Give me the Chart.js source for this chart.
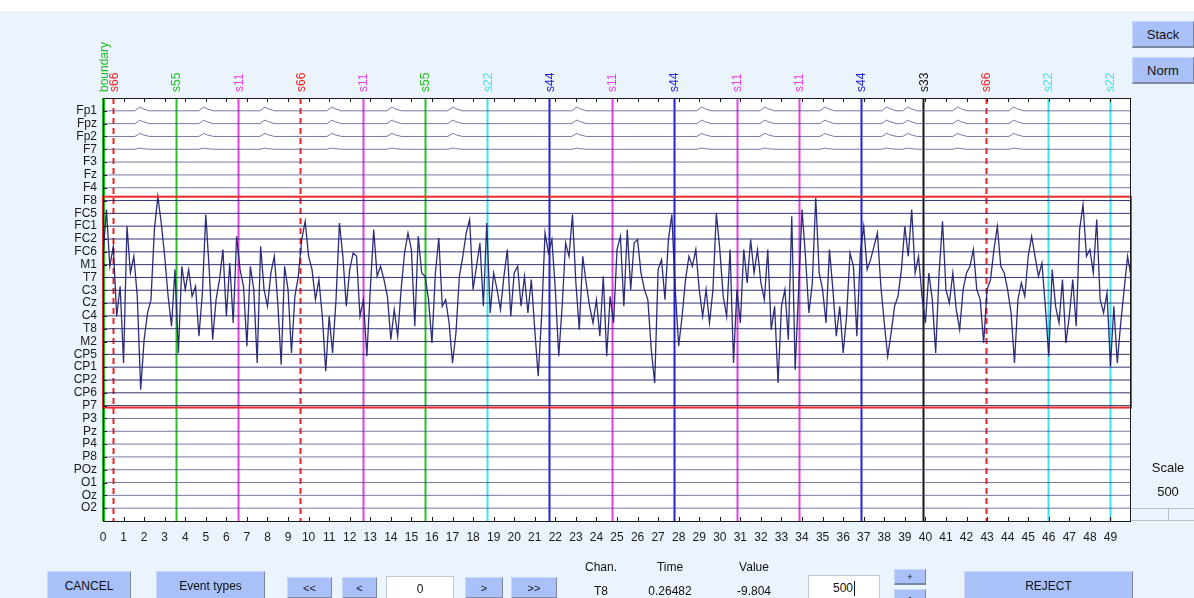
<!DOCTYPE html>
<html>
<head>
<meta charset="utf-8">
<title>EEG scroll</title>
<script src="https://cdn.jsdelivr.net/npm/chart.js@4.4.1/dist/chart.umd.min.js"></script>
<style>
  html, body { margin: 0; padding: 0; width: 1194px; height: 598px; overflow: hidden;
    background: #ebf3fd; font-family: "Liberation Sans", Arial, sans-serif; }
  #topstrip { position: absolute; left: 0; top: 0; width: 1194px; height: 11px; background: #ffffff; }
  #eeg { position: absolute; left: 0; top: 0; }
  .btn { position: absolute; box-sizing: border-box; background: #a9c0f8; color: #111;
    border-top: 1px solid #c9d6fb; border-left: 1px solid #c9d6fb;
    border-right: 1px solid #7d879f; border-bottom: 2px solid #7d879f;
    font-size: 12px; display: flex; align-items: center; justify-content: center; }
  .edit { position: absolute; box-sizing: border-box; background: #ffffff; border: 1px solid #c4c8d0;
    font-size: 12px; color: #111; display: flex; align-items: center; justify-content: center; }
  .lbl { position: absolute; font-size: 12px; color: #111; transform: translate(-50%, -50%); white-space: nowrap; }
  #slider { position: absolute; left: 1131px; top: 508px; width: 63px; height: 13px; box-sizing: border-box;
    border-top: 1px solid #b9bec8; border-bottom: 1px solid #b9bec8; }
  #slider div { position: absolute; left: 37px; top: 0; width: 1px; height: 12px; background: #b9bec8; }
</style>
</head>
<body>
<div id="topstrip"></div>
<canvas id="eeg" width="1194" height="598"></canvas>

<div class="btn" style="left:1132px;top:21px;width:62px;height:27px;font-size:13px;">Stack</div>
<div class="btn" style="left:1132px;top:57px;width:62px;height:27px;font-size:13px;">Norm</div>
<div class="lbl" style="left:1168px;top:467px;font-size:13px;">Scale</div>
<div class="lbl" style="left:1168px;top:491px;font-size:13px;">500</div>
<div id="slider"><div></div></div>

<div class="btn" style="left:47px;top:571px;width:84px;height:30px;">CANCEL</div>
<div class="btn" style="left:156px;top:571px;width:109px;height:30px;">Event types</div>
<div class="btn" style="left:287px;top:577px;width:45px;height:22px;font-size:11px;">&lt;&lt;</div>
<div class="btn" style="left:342px;top:577px;width:35px;height:22px;font-size:11px;">&lt;</div>
<div class="edit" style="left:386px;top:576px;width:68px;height:25px;">0</div>
<div class="btn" style="left:465px;top:577px;width:38px;height:22px;font-size:11px;">&gt;</div>
<div class="btn" style="left:511px;top:577px;width:46px;height:22px;font-size:11px;">&gt;&gt;</div>

<div class="lbl" style="left:601px;top:567px;">Chan.</div>
<div class="lbl" style="left:670px;top:567px;">Time</div>
<div class="lbl" style="left:754px;top:567px;">Value</div>
<div class="lbl" style="left:601px;top:591px;">T8</div>
<div class="lbl" style="left:670px;top:591px;">0.26482</div>
<div class="lbl" style="left:754px;top:591px;">-9.804</div>

<div class="edit" style="left:808px;top:575px;width:72px;height:26px;">500<span style="display:inline-block;width:1px;height:15px;background:#111;margin-left:1px;"></span></div>
<div class="btn" style="left:894px;top:569px;width:32px;height:16px;font-size:9px;">+</div>
<div class="btn" style="left:894px;top:589px;width:32px;height:16px;font-size:9px;">-</div>
<div class="btn" style="left:964px;top:571px;width:169px;height:30px;">REJECT</div>

<script>
// ---- recording layout -------------------------------------------------
const channels = ["Fp1","Fpz","Fp2","F7","F3","Fz","F4","F8","FC5","FC1","FC2","FC6","M1","T7",
                  "C3","Cz","C4","T8","M2","CP5","CP1","CP2","CP6","P7","P3","Pz","P4","P8",
                  "POz","O1","Oz","O2"];
const timeTicks = [0,1,2,3,4,5,6,7,8,9,10,11,12,13,14,15,16,17,18,19,20,21,22,23,24,
                   25,26,27,28,29,30,31,32,33,34,35,36,37,38,39,40,41,42,43,44,45,46,47,48,49];
const windowSeconds = [0, 50];
const channelSpacing = 500;           // µV between stacked channels ("Scale")

// ---- events (latency in s) ---------------------------------------------
const eventTypes     = ["boundary","s66","s55","s11","s66","s11","s55","s22","s44",
                        "s11","s44","s11","s11","s44","s33","s66","s22","s22"];
const eventLatencies = [0.00, 0.50, 3.55, 6.58, 9.60, 12.63, 15.66, 18.69, 21.71,
                        24.76, 27.77, 30.82, 33.85, 36.87, 39.90, 42.95, 45.96, 48.98];

// ---- ocular blinks on frontal leads -------------------------------------
const blinkLatencies = [1.80, 4.91, 7.88, 11.14, 14.06, 17.02, 23.05, 29.13, 32.20,
                        35.12, 38.13, 39.15, 41.58, 44.31];
const blinkChannels  = ["Fp1", "Fpz", "Fp2", "F7"];
const blinkPeaks     = [150, 140, 120, 45];          // µV

// ---- high-amplitude channel (µV, one sample every 1/6 s) ----------------
const artifactChannel = "C3";
const artifactStep = 1 / 6;
const artifactTrace = [
  1325, 3145,  935, 1715,-1015,  155,-2835, 2495,  675, 1325, -235,-3875,
 -1925, -885, -365, 2365, 3665, 2625, 1325, -235,-1405,  805,-2445,  935,
    25,  805, -235,  155,-1795, -105, 2950,  805,-1925, -365,  415, 1585,
 -1015, 1065,-1275, 2105,  805,  155,-2185,  935,   25,-2835, 1715,   25,
  -625,  675, 1325, -495,-2900,  935,   25,-2445, -235,  545, 1975, 2690,
  1325,  805, -365,  415,-1015,-3160,-1015,-2445, -365, 2625, 1325, -625,
   805, 1455, 1325,-1015, -365,-2575,   25, 2365,  545,  935,  415, -235,
 -1925, -755,-1795,   25, 1455, 2235, 1585,-1405, 2105,  675,  545, -365,
 -2055,  675, 2040, -625, -365,-1275,-2835,-1665,  545, 1325, 2235, 2755,
    25,  935, 1845, -625, 2625, -885,  675,   25, -755,  545, 1585,-1015,
   675,  935, -625,  545, -885,  415,-1535,-3355,-1015, 2235, 1455, 1975,
    25,-2575, -625, 1845, 1325, 2950,  285,-1535, 1325,  285, -625,-1275,
  -365,-1795,  545,-2575, -235,-1275, 1585, 2105, -625, 2365,   25, 1845,
  1975,  675,   25, -365,-2315,-3615,  805, 1195, -365, 1975, 2950,   25,
 -2185,-1015,  415, 1325,  935, 1585,   25,-1015,   25,-1275,   25, 3015,
  1585, -235,-1015, 1585,-2835,   25,-1275, 1585,  285, 1975,  675, 1585,
   285, -365, 1585,-1535, -625,-3615, -625,   25,-1925, 2885,-3095,   25,
  3145, 1325, -885,  285, 3600,  675,   25,-1275, 1585,   25,-1795, -625,
 -2445,-1015, 1455,  935,-1795, 1455, 2495,  805, 1195, 1715, 2235,  155,
 -1275,-2575,-1665, -625, -235,  805, 2495, 1325, 3145,  675, 1325, -235,
 -1275,  675, -365,-2445,  675, 2690,   25, -495,  675, -755,-1535,   25,
   675,  935, 1585,   25, -365,-2055,   25,  415, 1585, 2495,  935,  675,
    25, -885,-2835, -365,  285, -235, 1325, 2105, 1325,  545, 1065, -625,
 -2575,  805, -625,-1275,  415,-2055,-1015,  415,-1405, 2365, 3340, 1325,
  1585,  675, 2755, -365, -885, -105,-2965, -625,-2835,-1275,   25, 1325,
   545
];

// ---- highlighted (rejection) window: rows F8 .. P7 ------------------------
const markedRows = ["F8", "P7"];

// ---- styling -------------------------------------------------------------
const FONT = '"Liberation Sans", Arial, sans-serif';
const eventColors = { boundary: "#1fbf1f", s11: "#e440e4", s22: "#3be3ee", s33: "#161616",
                      s44: "#2222de", s55: "#24c424", s66: "#ee2424" };
const rowOf = name => channels.indexOf(name) + 1;

// ---- datasets ------------------------------------------------------------
const datasets = [];
const firstMarked = rowOf(markedRows[0]), lastMarked = rowOf(markedRows[1]);
channels.forEach((name, i) => {
  const row = i + 1;
  const b = blinkChannels.indexOf(name);
  let pts;
  if (b >= 0) {
    pts = [{ x: windowSeconds[0], y: row }];
    blinkLatencies.forEach(t => {
      pts.push({ x: t - 0.25, y: row });
      pts.push({ x: t - 0.08, y: row - 0.7 * blinkPeaks[b] / channelSpacing });
      pts.push({ x: t, y: row - blinkPeaks[b] / channelSpacing });
      pts.push({ x: t + 0.12, y: row - 0.6 * blinkPeaks[b] / channelSpacing });
      pts.push({ x: t + 0.45, y: row });
    });
    pts.push({ x: windowSeconds[1], y: row });
  } else {
    pts = [{ x: windowSeconds[0], y: row }, { x: windowSeconds[1], y: row }];
  }
  const inside = row >= firstMarked && row <= lastMarked;
  datasets.push({
    label: name, data: pts, borderWidth: 1, pointRadius: 0,
    borderColor: inside ? "rgba(30,30,100,0.9)" : "rgba(75,75,130,0.75)",
    order: 2
  });
});
const artRow = rowOf(artifactChannel);
datasets.push({
  label: artifactChannel + " trace",
  data: artifactTrace.map((v, k) => ({ x: k * artifactStep, y: artRow - v / channelSpacing })),
  borderWidth: 1.3, pointRadius: 0, borderColor: "rgba(28,28,110,0.92)", order: 1
});

// ---- drawing helpers ----------------------------------------------------
const eegPlugin = {
  id: "eegDecor",
  beforeDatasetsDraw(chart) {
    const { ctx, chartArea: a, scales: { x } } = chart;
    ctx.save();
    ctx.fillStyle = "#ffffff";
    ctx.fillRect(a.left, a.top, a.right - a.left, a.bottom - a.top);
    // event markers
    eventTypes.forEach((type, i) => {
      const px = Math.round(x.getPixelForValue(eventLatencies[i])) + 0.5;
      ctx.strokeStyle = eventColors[type];
      ctx.lineWidth = type === "boundary" ? 3 : 2;
      ctx.setLineDash(type === "s66" ? [6, 4] : []);
      ctx.beginPath();
      ctx.moveTo(px, a.top);
      ctx.lineTo(px, a.bottom);
      ctx.stroke();
    });
    ctx.restore();
  },
  afterDatasetsDraw(chart) {
    const { ctx, chartArea: a, scales: { x, y } } = chart;
    ctx.save();
    ctx.setLineDash([]);
    // rejection window
    ctx.strokeStyle = "#ec2b2b";
    ctx.lineWidth = 2;
    const y0 = y.getPixelForValue(firstMarked - 0.3), y1 = y.getPixelForValue(lastMarked + 0.15);
    ctx.strokeRect(a.left, y0, a.right - a.left, y1 - y0);
    // frame
    ctx.strokeStyle = "#1a1a1a";
    ctx.lineWidth = 1;
    ctx.strokeRect(a.left + 0.5, a.top + 0.5, a.right - a.left - 1, a.bottom - a.top);
    // inward tick marks
    ctx.beginPath();
    timeTicks.forEach(t => {
      const px = Math.round(x.getPixelForValue(t)) + 0.5;
      ctx.moveTo(px, a.top); ctx.lineTo(px, a.top + 4);
      ctx.moveTo(px, a.bottom); ctx.lineTo(px, a.bottom - 4);
    });
    channels.forEach((c, i) => {
      const py = Math.round(y.getPixelForValue(i + 1)) + 0.5;
      ctx.moveTo(a.left, py); ctx.lineTo(a.left + 4, py);
    });
    ctx.stroke();
    // event labels above the window
    ctx.font = "12px " + FONT;
    ctx.textAlign = "left";
    ctx.textBaseline = "middle";
    eventTypes.forEach((type, i) => {
      const px = x.getPixelForValue(eventLatencies[i]) + (type === "boundary" ? 1.5 : 1);
      ctx.save();
      ctx.translate(px, a.top - 6);
      ctx.rotate(-Math.PI / 2);
      ctx.fillStyle = eventColors[type];
      ctx.fillText(type, 0, 0);
      ctx.restore();
    });
    ctx.restore();
  }
};

new Chart(document.getElementById("eeg"), {
  type: "line",
  data: { datasets },
  plugins: [eegPlugin],
  options: {
    responsive: false, animation: false, events: [],
    layout: { padding: { left: 0, top: 98, right: 63, bottom: 0 } },
    plugins: { legend: { display: false }, tooltip: { enabled: false } },
    elements: { line: { tension: 0 }, point: { radius: 0 } },
    scales: {
      x: {
        type: "linear", position: "bottom", min: windowSeconds[0], max: windowSeconds[1],
        afterBuildTicks: s => { s.ticks = timeTicks.map(v => ({ value: v })); },
        afterFit: s => { s.height = 77; },
        grid: { display: false, drawTicks: false }, border: { display: false },
        ticks: { autoSkip: false, maxRotation: 0, padding: 9, color: "#1a1a1a",
                 font: { family: FONT, size: 12 }, callback: v => String(v) }
      },
      y: {
        type: "linear", position: "left", min: 0, max: 33, reverse: true,
        afterBuildTicks: s => { s.ticks = channels.map((c, i) => ({ value: i + 1 })); },
        afterFit: s => { s.width = 103; },
        grid: { display: false, drawTicks: false }, border: { display: false },
        ticks: { autoSkip: false, padding: 6, color: "#1a1a1a",
                 font: { family: FONT, size: 12 }, callback: v => channels[v - 1] }
      }
    }
  }
});
</script>
</body>
</html>
